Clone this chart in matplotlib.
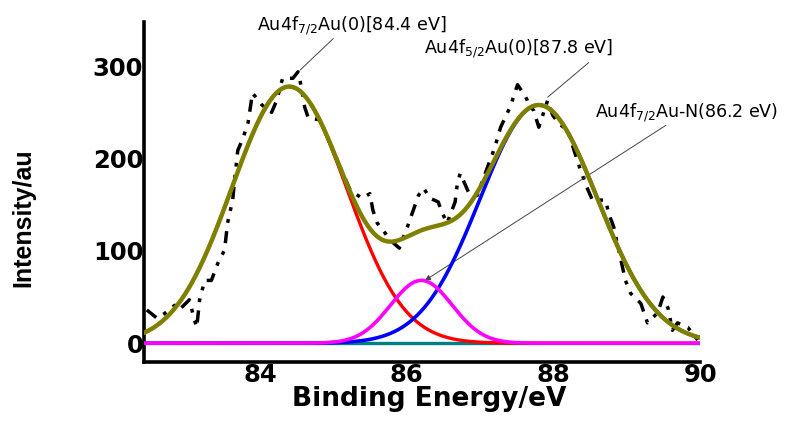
import numpy as np
import matplotlib
matplotlib.use("Agg")
import matplotlib.pyplot as plt

# ---- data ----
raw_energy = [82.46, 82.6, 82.7, 82.84, 82.9, 83.04, 83.1, 83.14, 83.18, 83.25, 83.34, 83.43,
              83.52, 83.56, 83.63, 83.66, 83.7, 83.77, 83.84, 83.9, 84.03, 84.16, 84.23, 84.31,
              84.45, 84.52, 84.57, 84.61, 84.66, 84.82, 84.89, 85.13, 85.23, 85.39, 85.5, 85.54,
              85.6, 85.7, 85.77, 85.9, 86.01, 86.09, 86.16, 86.23, 86.32, 86.43, 86.48, 86.55,
              86.66, 86.69, 86.73, 86.84, 86.96, 87.2, 87.28, 87.41, 87.51, 87.62, 87.66, 87.73,
              87.8, 87.92, 87.99, 88.07, 88.19, 88.28, 88.37, 88.46, 88.53, 88.71, 88.75, 88.82,
              88.91, 88.98, 89.05, 89.19, 89.28, 89.42, 89.49, 89.56, 89.62, 89.69, 89.83, 89.97]
raw_intensity = [36, 27, 32, 41, 36, 47, 28, 17, 47, 68, 68, 87,
                 101, 130, 155, 180, 209, 222, 239, 271, 258, 250, 263, 287,
                 287, 294, 276, 256, 244, 242, 229, 184, 166, 157, 162, 144,
                 130, 120, 112, 103, 126, 144, 160, 168, 157, 153, 142, 130,
                 153, 173, 184, 164, 160, 212, 234, 256, 280, 267, 260, 252,
                 234, 263, 247, 238, 231, 209, 187, 168, 155, 155, 141, 126,
                 93, 68, 54, 43, 22, 33, 50, 38, 14, 22, 17, 3]

peak_labels = [r'Au4f$_{7/2}$Au(0)[84.4 eV]', r'Au4f$_{5/2}$Au(0)[87.8 eV]',
               r'Au4f$_{7/2}$Au-N(86.2 eV)']
peak_centers = [84.4, 87.8, 86.2]
peak_heights = [278, 258, 68]
peak_sigmas = [0.78, 0.80, 0.42]
peak_colors = ["#ff0000", "#0000ff", "#ff00ff"]

x_ticks = [84, 86, 88, 90]
y_ticks = [0, 100, 200, 300]

# ---- figure ----
plt.rcParams['font.family'] = ['DejaVu Sans']
plt.rcParams['mathtext.fontset'] = 'dejavusans'
fig = plt.figure(figsize=(7.86, 4.23), dpi=100)
ax = fig.add_axes([0.183, 0.144, 0.708, 0.804])

e = np.linspace(82.42, 90.0, 600)
comps = [h * np.exp(-(e - c) ** 2 / (2 * s ** 2))
         for c, h, s in zip(peak_centers, peak_heights, peak_sigmas)]
envelope = np.sum(comps, axis=0)

ax.plot(raw_energy, raw_intensity, color='black', lw=2.5,
        dashes=(3.5, 2.4, 1.1, 2.4, 1.1, 2.4), zorder=2)
ax.plot(e, np.zeros_like(e), color='#008080', lw=2.4, zorder=3)
ax.plot(e, comps[0], color=peak_colors[0], lw=2.4, zorder=4)
ax.plot(e, comps[1], color=peak_colors[1], lw=2.6, zorder=4)
ax.plot(e, comps[2], color=peak_colors[2], lw=2.6, zorder=5)
ax.plot(e, envelope, color='#808000', lw=3.2, zorder=6)

ax.set_xlim(82.42, 90.0)
ax.set_ylim(-20.5, 348)
ax.set_xticks(x_ticks)
ax.set_yticks(y_ticks)
ax.tick_params(length=0, labelsize=17.5, pad=0.5)
for lab in ax.get_xticklabels() + ax.get_yticklabels():
    lab.set_fontweight('bold')
for s in ['top', 'right']:
    ax.spines[s].set_visible(False)
for s in ['left', 'bottom']:
    ax.spines[s].set_linewidth(2.6)

ax.set_xlabel('Binding Energy/eV', fontsize=19, fontweight='bold')
ax.xaxis.set_label_coords(0.513, -0.07)
ax.xaxis.label.set_verticalalignment('top')
ax.set_ylabel('Intensity/au', fontsize=18, fontweight='bold',
              family=['Liberation Sans', 'DejaVu Sans'])
ax.yaxis.set_label_coords(-0.195, 0.426)

# annotations
label_pos = [(83.96, 344.5), (86.23, 319.6), (88.57, 250)]
line_start = [(85.0, 330), (88.48, 304), (89.53, 236)]
line_end = [(84.55, 296), (87.92, 266.5), (86.25, 68)]
styles = ['-', '-', '-|>']
for lab, pos, st, en, sty in zip(peak_labels, label_pos, line_start, line_end, styles):
    ax.text(pos[0], pos[1], lab, fontsize=12.6, ha='left', va='center', clip_on=False)
    ax.annotate('', xy=en, xytext=st, annotation_clip=False,
                arrowprops=dict(arrowstyle=sty, color='#444444', lw=0.7, mutation_scale=8,
                                shrinkA=0, shrinkB=0))

fig.savefig('out.png', dpi=100)
